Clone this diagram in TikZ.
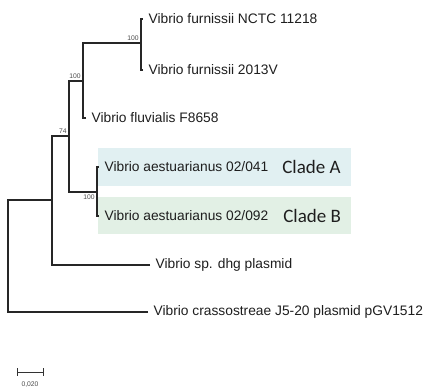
\documentclass[tikz,border=0pt]{standalone}
\usepackage{fontspec}
\setmainfont{Liberation Sans}
\newfontfamily\cladefont{Carlito}
\usetikzlibrary{arrows}
\definecolor{cladeAbg}{RGB}{225,240,242}
\definecolor{cladeBbg}{RGB}{226,240,229}
\definecolor{inktext}{RGB}{30,30,30}
\begin{document}
\begin{tikzpicture}[
    x=0.025cm, y=-0.025cm,
    branch/.style={line width=0.9pt, black!85},
    tip/.style={anchor=west, inner xsep=0pt, outer xsep=4pt, text=inktext, font=\fontsize{9.8}{11}\selectfont},
    boot/.style={inner sep=1.5pt, text=black!70, font=\fontsize{4.8}{6}\selectfont},
    clade/.style={anchor=west, inner sep=0pt, text=inktext, font=\cladefont\fontsize{13.5}{15}\selectfont},
]
\useasboundingbox (0,0) rectangle (427,391);
% clade shading
\fill[cladeAbg] (98,148) rectangle (351,186);
\fill[cladeBbg] (98,197) rectangle (351,234);
% inner nodes of the tree
\coordinate (root) at (8,256);
\coordinate (n1) at (52,200);
\coordinate (n2) at (69,136);
\coordinate (n3) at (83,81);
\coordinate (n4) at (141,43);
\coordinate (n5) at (97,192);
% tips
\node[tip] (tfu1) at (143,19) {Vibrio furnissii NCTC 11218};
\node[tip] (tfu2) at (143,70) {Vibrio furnissii 2013V};
\node[tip] (tflu) at (86,118) {Vibrio fluvialis F8658};
\node[tip] (taeA) at (99,167) {Vibrio aestuarianus 02/041};
\node[tip] (taeB) at (99,216) {Vibrio aestuarianus 02/092};
\node[tip] (tdhg) at (150,265) {Vibrio sp. dhg plasmid};
\node[tip] (tcra) at (148,312) {Vibrio crassostreae J5-20 plasmid pGV1512};
\node[clade] (cA) at (282,167) {Clade A};
\node[clade] (cB) at (283,216) {Clade B};
% branches
\draw[branch] (tcra.west) -| (root) |- (n1);
\draw[branch] (tdhg.west) -| (n1) |- (n2);
\draw[branch] (n5) -| (n2) |- (n3);
\draw[branch] (tflu.west) -| (n3) |- (n4);
\draw[branch] (tfu2.west) -| (n4) |- (tfu1.west);
\draw[branch] (taeB.west) -| (n5) |- (taeA.west);
% bootstrap values
\node[boot, above left] (b4) at (n4) {100};
\node[boot, above left] (b3) at (n3) {100};
\node[boot, above left] (b2) at (n2) {74};
\node[boot, below left] (b5) at (n5) {100};
% scale bar
\coordinate (sbl) at (17,372);
\coordinate (sbr) at (44,372);
\draw[|-|, line width=0.5pt, black!80] (sbl) -- (sbr);
\node[boot] (sbt) at (30,385) {0,020};
\end{tikzpicture}
\end{document}
